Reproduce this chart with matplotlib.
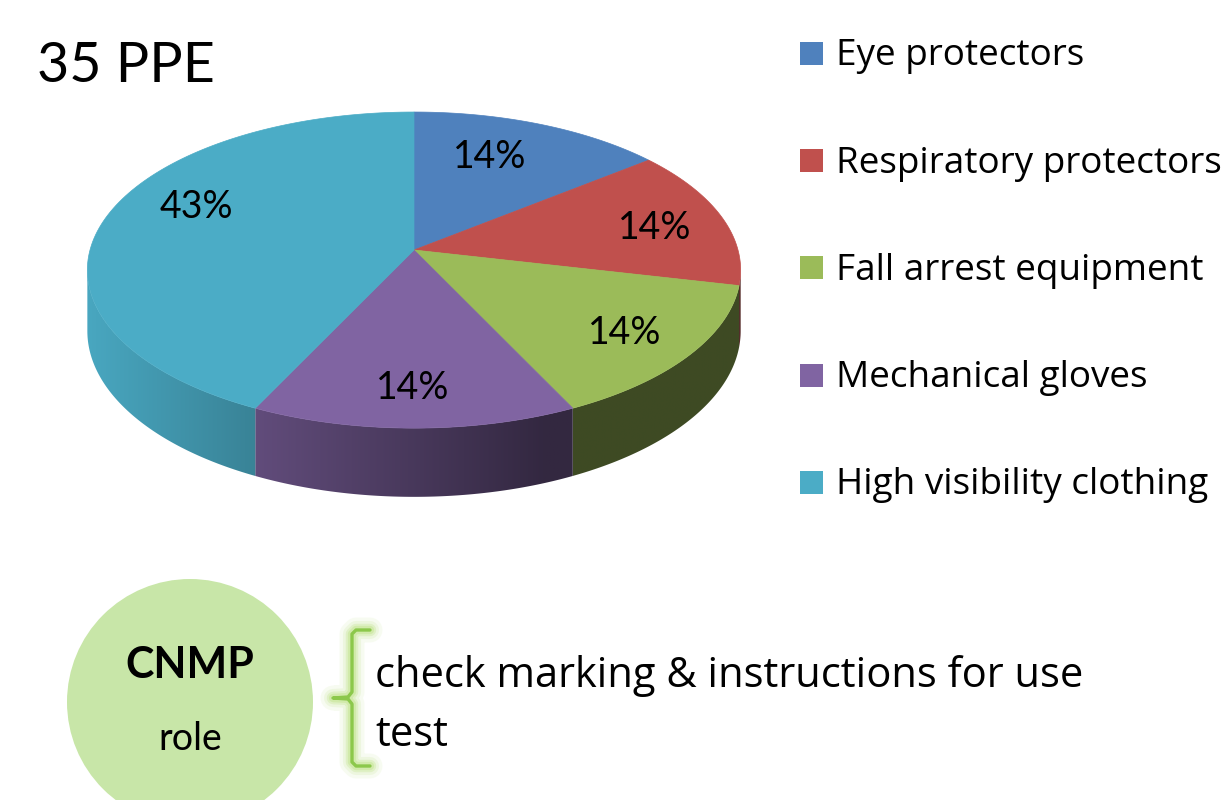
import numpy as np
import matplotlib
matplotlib.use("Agg")
import matplotlib.pyplot as plt
from matplotlib.patches import Polygon, Circle, Rectangle

# ---------------- data ----------------
categories = ["Eye protectors", "Respiratory protectors", "Fall arrest equipment",
              "Mechanical gloves", "High visibility clothing"]
counts = [5, 5, 5, 5, 15]
colors = ["#4f81bd", "#c0504d", "#9bbb59", "#8064a2", "#4bacc6"]
title = "35 PPE"
role_title = "CNMP"
role_sub = "role"
role_lines = ["check marking & instructions for use", "test"]

FONT = ["Lato", "DejaVu Sans"]
FONT2 = ["Open Sans", "DejaVu Sans"]
plt.rcParams["font.family"] = FONT

W, H = 1222, 800
fig = plt.figure(figsize=(W / 100, H / 100), dpi=100)
ax = fig.add_axes([0, 0, 1, 1])
ax.axis("off")

# ---------------- 3D pie geometry (perspective projection) ----------------
cx, cy = 414, 250      # apex of the pie on screen
A, B = 324, 155.5      # horizontal / depth radii
p = 0.127              # perspective strength
D = 60                 # thickness


def proj(theta_deg, bottom=False):
    t = np.radians(theta_deg)
    u, v = np.sin(t), np.cos(t)
    w = 1.0 / (1.0 + p * v)
    x = cx + A * u * w
    y = cy - B * v * w
    if bottom:
        y = y + D * w
    return x, y


def shade(x):
    return np.clip(0.97 - 0.00125 * (x - 88), 0.40, 1.0)


def rgb(c):
    c = c.lstrip("#")
    return np.array([int(c[i:i + 2], 16) / 255 for i in (0, 2, 4)])


total = float(sum(counts))
fracs = np.array(counts) / total
edges = np.concatenate([[0], np.cumsum(fracs) * 360.0])

vis_lo = np.degrees(np.arccos(-p))
vis_hi = 360.0 - vis_lo

# side walls with horizontal gradient shading
for i, col in enumerate(colors):
    a0, a1 = max(edges[i], vis_lo), min(edges[i + 1], vis_hi)
    if a1 <= a0:
        continue
    angs = np.linspace(a0, a1, 200)
    top = [proj(a) for a in angs]
    bot = [proj(a, True) for a in angs[::-1]]
    pts = np.array(top + bot)
    poly = Polygon(pts, closed=True, facecolor="none", edgecolor="none",
                   zorder=2)
    ax.add_patch(poly)
    xmin, xmax = pts[:, 0].min() - 2, pts[:, 0].max() + 2
    ymin, ymax = pts[:, 1].min() - 2, pts[:, 1].max() + 2
    xs = np.linspace(xmin, xmax, 400)
    img = np.clip(rgb(col)[None, None, :] * shade(xs)[None, :, None], 0, 1)
    im = ax.imshow(img, extent=[xmin, xmax, ymax, ymin], aspect="auto",
                   interpolation="bilinear", zorder=2)
    im.set_clip_path(poly)

# top faces
for i, col in enumerate(colors):
    angs = np.linspace(edges[i], edges[i + 1], 120)
    pts = [(cx, cy)] + [proj(a) for a in angs]
    ax.add_patch(Polygon(pts, closed=True, facecolor=col, edgecolor=col,
                         linewidth=0.5, zorder=3))

# percentage labels
label_pos = [(490, 157), (655, 228), (625, 333), (413, 388), (196, 207)]
for (lx, ly), f in zip(label_pos, fracs):
    ax.text(lx, ly, f"{round(f * 100):.0f}%", fontsize=27, ha="center",
            va="center", color="black", zorder=5)

# title
ax.text(37, 82, title, fontsize=40, ha="left", va="baseline", color="black")

# legend
for k, (name, col) in enumerate(zip(categories, colors)):
    yc = 53.5 + 107.2 * k
    ax.add_patch(Rectangle((800, yc - 11.5), 23, 23, facecolor=col,
                           edgecolor="none", zorder=4))
    ax.text(836, yc + 12, name, fontsize=26.6, family=FONT2, ha="left",
            va="baseline", color="black", zorder=4, clip_on=True)

# ---------------- bottom: role circle and brace ----------------
ax.add_patch(Circle((190, 702), 123, facecolor="#c8e6a8", edgecolor="none",
                    zorder=1))
ax.text(190, 678, role_title, fontsize=31, fontweight="bold", ha="center",
        va="baseline", color="black")
ax.text(190, 750, role_sub, fontsize=27, ha="center", va="baseline",
        color="black")

bx = np.array([370, 356, 352, 352, 348, 333, 348, 352, 352, 356, 370])
by = np.array([630, 630, 634, 692, 697, 698, 699, 704, 762, 766, 766])
for lw, a in [(18, 0.10), (13, 0.15), (9, 0.25), (6, 0.35)]:
    ax.plot(bx, by, color="#b8e07a", lw=lw, alpha=a, solid_capstyle="round",
            solid_joinstyle="round", zorder=1)
ax.plot(bx, by, color="#8cc84b", lw=2.4, solid_capstyle="round",
        solid_joinstyle="round", zorder=2)

ax.text(375, 687, role_lines[0], fontsize=30, family=FONT2, ha="left",
        va="baseline", color="black")
ax.text(375, 746, role_lines[1], fontsize=30, family=FONT2, ha="left",
        va="baseline", color="black")

ax.set_xlim(0, W)
ax.set_ylim(H, 0)
fig.savefig("out.png", dpi=100, facecolor="white")
